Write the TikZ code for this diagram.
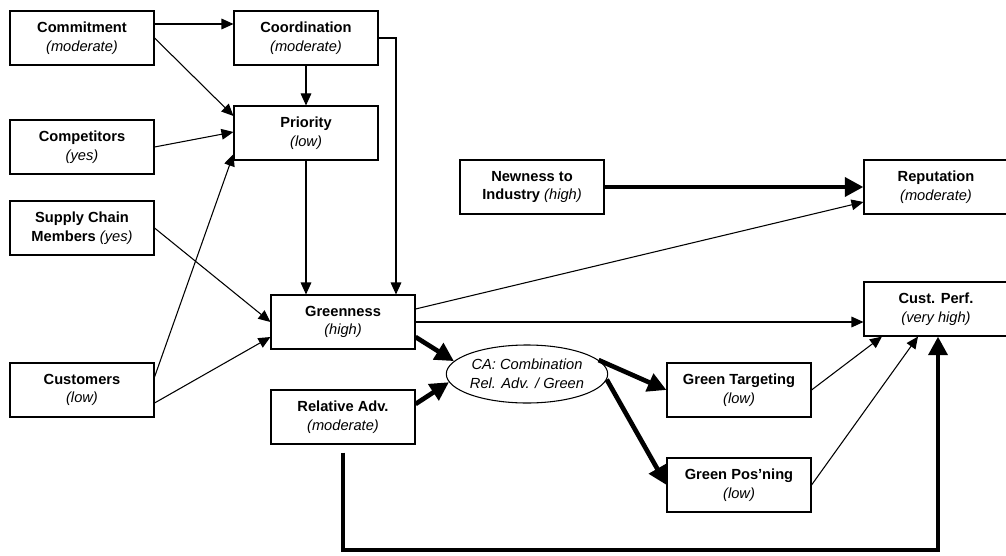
\documentclass[tikz,border=0pt]{standalone}
\usepackage{fontspec}
\setmainfont{Liberation Sans}
\usetikzlibrary{arrows.meta, shapes.geometric}

\begin{document}
\begin{tikzpicture}[x = 0.75pt, y = -0.75pt,
        box/.style = {draw, line width = 0.8pt, minimum width = 108pt, minimum height = 40.5pt, inner sep = 0pt, align = center, font = \fontsize{11}{14}\selectfont},
        oval/.style = {draw, ellipse, line width = 0.8pt, minimum width = 101pt, minimum height = 43.5pt, inner sep = 0pt, align = center, font = \fontsize{11}{14}\selectfont\itshape},
        link/.style = {line width = 0.8pt, -{Triangle[length = 9pt, width = 8pt]}},
        heavy/.style = {line width = 3.5pt, -{Triangle[length = 14pt, width = 14pt]}}]
    \useasboundingbox (0,0) rectangle (1006,556);
    \node[box] (commit)   at (82,38)   {\textbf{Commitment}\\\textit{(moderate)}};
    \node[box] (coord)    at (306,38)  {\textbf{Coordination}\\\textit{(moderate)}};
    \node[box] (prio)     at (306,133) {\textbf{Priority}\\\textit{(low)}};
    \node[box] (compet)   at (82,147)  {\textbf{Competitors}\\\textit{(yes)}};
    \node[box] (supply)   at (82,228)  {\textbf{Supply Chain}\\\textbf{Members} \textit{(yes)}};
    \node[box] (cust)     at (82,390)  {\textbf{Customers}\\\textit{(low)}};
    \node[box] (green)    at (343,322) {\textbf{Greenness}\\\textit{(high)}};
    \node[box] (reladv)   at (343,417) {\textbf{Relative Adv.}\\\textit{(moderate)}};
    \node[box] (newness)  at (532,187) {\textbf{Newness to}\\\textbf{Industry} \textit{(high)}};
    \node[box] (reput)    at (936,187) {\textbf{Reputation}\\\textit{(moderate)}};
    \node[box] (custperf) at (936,309) {\textbf{Cust. Perf.}\\\textit{(very high)}};
    \node[box] (target)   at (739,390) {\textbf{Green Targeting}\\\textit{(low)}};
    \node[box] (posn)     at (739,485) {\textbf{Green Pos’ning}\\\textit{(low)}};
    \node[oval] (ca)      at (527,374) {CA: Combination\\Rel. Adv. / Green};
    \coordinate (base) at (640,550);

    \draw[link] ([yshift = 10.5pt]commit.east) -- ([yshift = 10.5pt]coord.west);
    \draw[link] (commit.east) -- ([yshift = 12.75pt]prio.west);
    \draw[link] (coord.south) -- (prio.north);
    \draw[link] (coord.east) -| ([xshift = 39.75pt]green.north);
    \draw[link] (compet.east) -- ([yshift = 0.75pt]prio.west);
    \draw[link] ([yshift = 9.75pt]cust.east) -- ([yshift = -15.75pt]prio.west);
    \draw[link] (prio.south) -- (prio.south |- green.north);
    \draw[link] (supply.east) -- (green.west);
    \draw[link] ([yshift = -9.75pt]cust.east) -- ([yshift = -11.25pt]green.west);
    \draw[link] ([yshift = 9.75pt]green.east) -- ([yshift = -11.25pt]reput.west);
    \draw[link] (green.east) -- (green.east -| custperf.west);
    \draw[link] (target.east) -- ([xshift = -40.5pt]custperf.south);
    \draw[link] (posn.east) -- ([xshift = -13.5pt]custperf.south);

    \draw[heavy] (newness.east) -- (reput.west);
    \draw[heavy] ([yshift = -11.25pt]green.east) -- (ca.170);
    \draw[heavy] ([yshift = 9.75pt]reladv.east) -- (ca.186);
    \draw[heavy] (ca.11) -- (target.west);
    \draw[heavy] (ca.-4) -- (posn.west);
    \draw[heavy] ([yshift = -6pt]reladv.south) |- (base) -| ([xshift = 1.5pt]custperf.south);
\end{tikzpicture}
\end{document}
